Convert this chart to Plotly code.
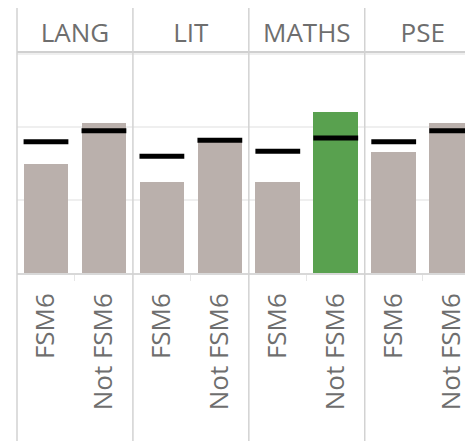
import plotly.graph_objects as go

subjects = ["LANG", "LIT", "MATHS", "PSE"]
groups = ["FSM6", "Not FSM6"]
bar_values = [30, 41, 25, 36.6, 25, 44.1, 33.2, 41]
ref_values = [36, 39, 32, 36.4, 33.4, 37, 36, 39]
bar_colors = ["#bab0ac", "#bab0ac", "#bab0ac", "#bab0ac",
              "#bab0ac", "#59a14f", "#bab0ac", "#bab0ac"]

labels = [g for s in subjects for g in groups]
xpos = list(range(len(labels)))
ng = len(groups)
centers = [i * ng + (ng - 1) / 2 for i in range(len(subjects))]
xrange_ = [-0.5, 7.23]

FONT = "Open Sans"
TXT = "#6e6e6e"
DIV = "#d2d2d2"

fig = go.Figure()
fig.add_trace(go.Bar(x=xpos, y=bar_values, marker=dict(color=bar_colors, line=dict(width=0)),
                     width=0.77, hoverinfo="skip"))
fig.add_trace(go.Scatter(x=xpos, y=ref_values, mode="markers",
                         marker=dict(symbol="line-ew", size=32,
                                     line=dict(width=5, color="black")),
                         hoverinfo="skip"))
# invisible trace for header axis
fig.add_trace(go.Scatter(x=centers, y=[None] * len(centers), xaxis="x2",
                         mode="markers", showlegend=False, hoverinfo="skip"))

shapes = [dict(type="line", xref="paper", yref="paper", x0=0, x1=0, y0=-0.8, y1=1.205,
               line=dict(color=DIV, width=1.5))]
for i in range(1, len(subjects)):
    xv = i * ng - 0.5
    shapes.append(dict(type="line", xref="x", yref="paper", x0=xv, x1=xv, y0=-0.8, y1=1.205,
                       line=dict(color=DIV, width=1.5)))

fig.update_layout(
    width=468, height=441,
    margin=dict(l=17, r=0, t=53, b=168),
    paper_bgcolor="white", plot_bgcolor="white",
    showlegend=False,
    bargap=0,
    shapes=shapes,
    xaxis=dict(range=xrange_, tickmode="array", tickvals=xpos, ticktext=labels,
               tickangle=-90, tickfont=dict(family=FONT, size=26, color=TXT),
               ticklabeloverflow="allow",
               showgrid=False, zeroline=False, showline=True, linecolor="#d8d8d8", linewidth=1.5,
               ticks="", ticklabelstandoff=8,
               minor=dict(ticks="outside", tick0=0.5, dtick=2, ticklen=6, tickcolor="#e6e6e6",
                          showgrid=False)),
    xaxis2=dict(range=xrange_, overlaying="x", side="top", anchor="y",
                tickmode="array", tickvals=centers, ticktext=subjects,
                tickfont=dict(family=FONT, size=26, color=TXT),
                ticklabeloverflow="allow",
                showgrid=False, zeroline=False, showline=True, linecolor="#d0d0d0", linewidth=1.5,
                ticks="", ticklabelstandoff=-1),
    yaxis=dict(range=[0, 60.3], dtick=20, showticklabels=False, showgrid=True,
               gridcolor="#efefef", gridwidth=1.5, zeroline=False, showline=False),
)

fig.write_html("out.html", config={"displayModeBar": False},
               post_script="document.body.style.margin='0';document.body.style.overflow='hidden';")
